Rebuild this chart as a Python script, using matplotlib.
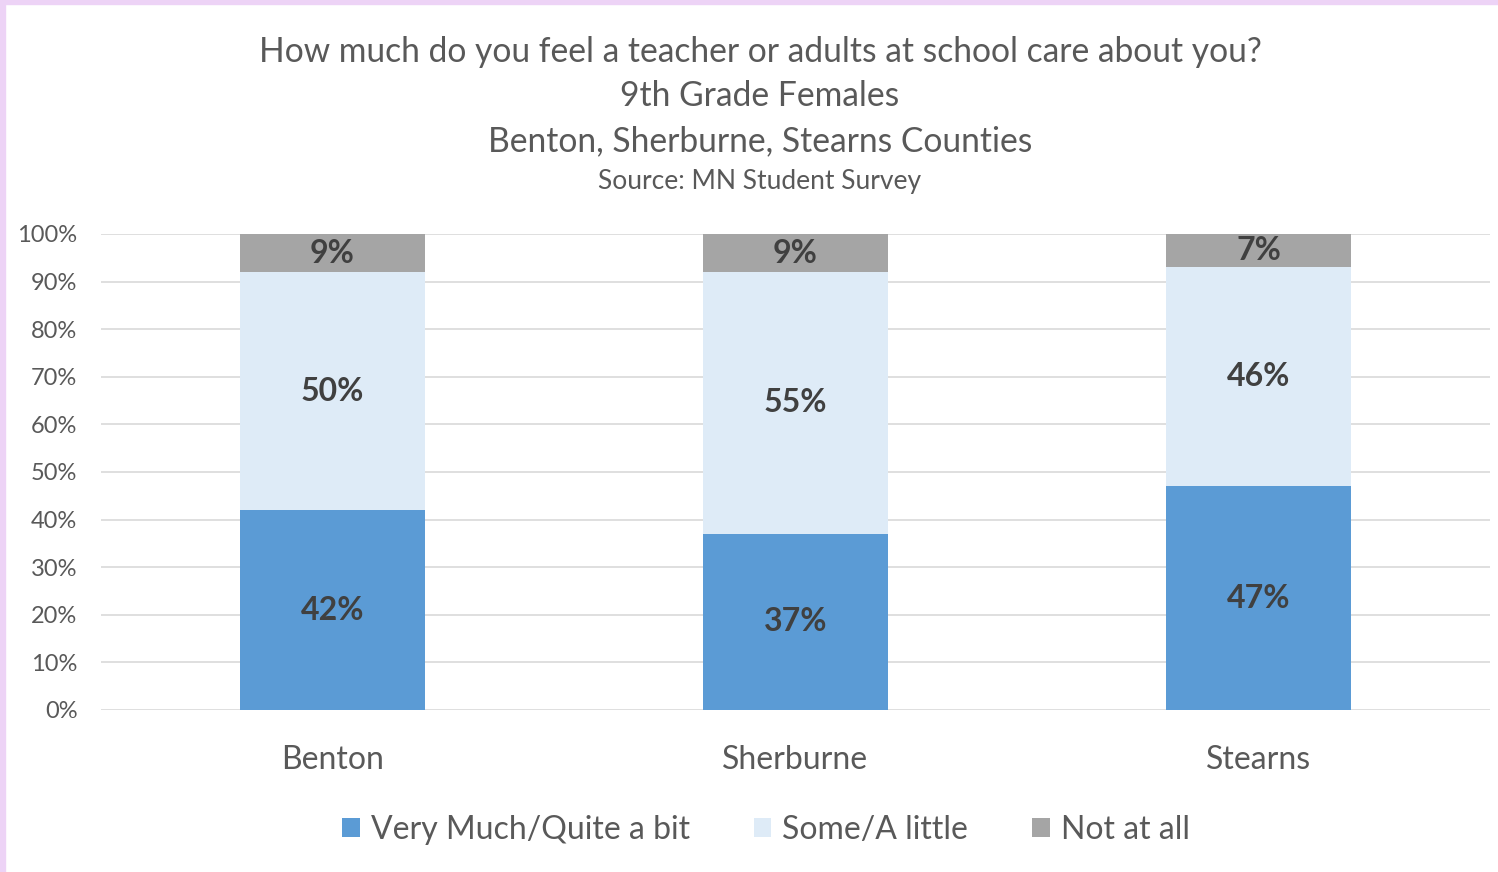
import matplotlib.pyplot as plt
from matplotlib.patches import Patch, Rectangle
import numpy as np

plt.rcParams['font.family'] = ['Lato', 'DejaVu Sans']

# data
counties = ["Benton", "Sherburne", "Stearns"]
very_much = [0.42, 0.37, 0.47]
some_little = [0.50, 0.55, 0.46]
not_at_all = [0.09, 0.09, 0.07]
series_names = ["Very Much/Quite a bit", "Some/A little", "Not at all"]
colors = ["#5B9BD5", "#DEEBF7", "#A5A5A5"]

title_lines = ["How much do you feel a teacher or adults at school care about you?",
               "9th Grade Females",
               "Benton, Sherburne, Stearns Counties"]
source = "Source: MN Student Survey"

W, H = 1498, 872
fig = plt.figure(figsize=(W / 100, H / 100), dpi=100)
fig.patch.set_facecolor("white")

# purple frame on top/left edges
fig.patches.append(Rectangle((0, 1 - 4 / H), 1, 4 / H, transform=fig.transFigure,
                             color="#EDD3F6", zorder=0))
fig.patches.append(Rectangle((0, 0), 5 / W, 1, transform=fig.transFigure,
                             color="#EDD3F6", zorder=0))

ax = fig.add_axes([101 / W, 1 - 710 / H, (1490 - 101) / W, (710 - 234) / H])

x = np.arange(len(counties))
bottom = np.zeros(len(counties))
for vals, name, c in zip([very_much, some_little, not_at_all], series_names, colors):
    vals = np.array(vals)
    ax.bar(x, vals, 0.4, bottom=bottom, color=c, label=name, zorder=2)
    for xi, b, v in zip(x, bottom, vals):
        top = min(b + v, 1.0)
        ax.text(xi, (b + top) / 2, f"{v:.0%}", ha="center", va="center",
                fontsize=23, fontweight="bold", color="#404040", zorder=3)
    bottom = bottom + vals

ax.set_xlim(-0.5, len(counties) - 0.5)
ax.set_ylim(0, 1)
ax.set_yticks(np.arange(0, 1.01, 0.1))
ax.set_yticklabels([f"{int(round(t * 100))}%" for t in np.arange(0, 1.01, 0.1)])
ax.set_xticks(x)
ax.set_xticklabels(counties)
ax.tick_params(axis="y", length=0, pad=17, labelsize=17, labelcolor="#595959")
ax.tick_params(axis="x", length=0, pad=25, labelsize=23, labelcolor="#595959")
ax.grid(axis="y", color="#D9D9D9", linewidth=1.2, zorder=0)
ax.set_axisbelow(True)
for s in ax.spines.values():
    s.set_visible(False)

# titles
ys = [52, 96, 141]
for t, yy in zip(title_lines, ys):
    fig.text(760 / W, 1 - yy / H, t, ha="center", va="center", fontsize=24.2, color="#595959")
fig.text(760 / W, 1 - 181 / H, source, ha="center", va="center", fontsize=19, color="#595959")

handles = [Patch(facecolor=c, label=n) for n, c in zip(series_names, colors)]
fig.legend(handles=handles, loc="center", bbox_to_anchor=(766 / W, 1 - 830 / H), ncol=3,
           frameon=False, fontsize=23, handlelength=0.55, handleheight=0.55,
           handletextpad=0.35, columnspacing=2.0, labelcolor="#595959")

fig.savefig("out.png", dpi=100)
